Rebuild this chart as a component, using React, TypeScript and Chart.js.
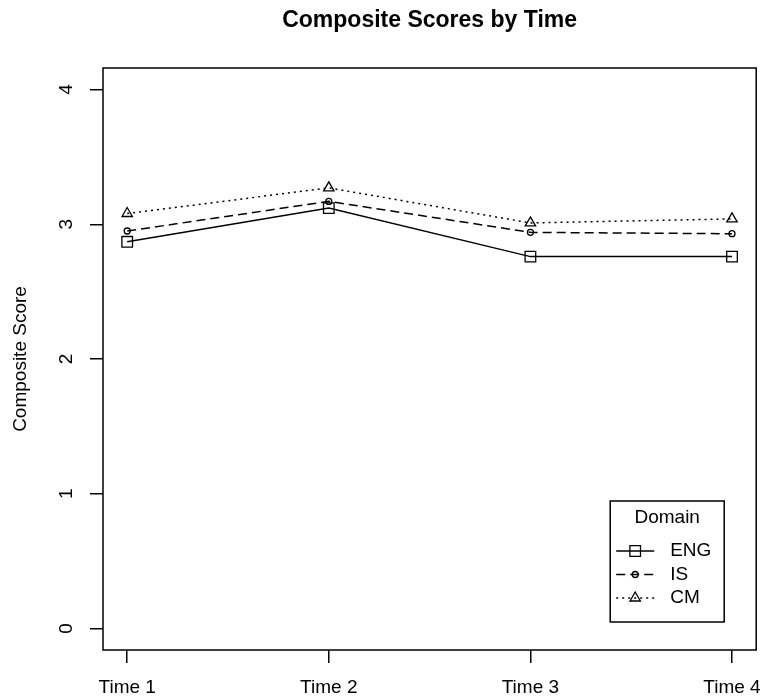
import { useEffect, useRef } from 'react';
import { Chart, registerables } from 'chart.js';
import { drawPoint } from 'chart.js/helpers';

Chart.register(...registerables);

const chartTitle = 'Composite Scores by Time';
const yTitle = 'Composite Score';
const legendTitle = 'Domain';
const timeLabels = ['Time 1', 'Time 2', 'Time 3', 'Time 4'];
const timePoints = [1, 2, 3, 4];
const yTicks = [0, 1, 2, 3, 4];
const seriesNames = ['ENG', 'IS', 'CM'];
const engScores = [2.87, 3.12, 2.76, 2.76];
const isScores = [2.95, 3.17, 2.94, 2.93];
const cmScores = [3.08, 3.27, 3.01, 3.04];

const FONT = '"Liberation Sans", Arial, Helvetica, sans-serif';

const boxPlugin = {
  id: 'rBox',
  beforeDatasetsDraw(chart: any) {
    const { ctx, chartArea } = chart;
    ctx.save();
    ctx.strokeStyle = '#000';
    ctx.lineWidth = 1.5;
    ctx.strokeRect(chartArea.left, chartArea.top, chartArea.right - chartArea.left, chartArea.bottom - chartArea.top);
    ctx.restore();
  },
};

const legendPlugin = {
  id: 'rLegend',
  afterDraw(chart: any) {
    const { ctx, chartArea } = chart;
    const w = 114;
    const h = 121;
    const right = chartArea.right - 32;
    const bottom = chartArea.bottom - 28;
    const left = right - w;
    const top = bottom - h;
    ctx.save();
    ctx.fillStyle = '#fff';
    ctx.fillRect(left, top, w, h);
    ctx.strokeStyle = '#000';
    ctx.lineWidth = 1.5;
    ctx.strokeRect(left, top, w, h);
    ctx.fillStyle = '#000';
    ctx.font = `19px ${FONT}`;
    ctx.textAlign = 'center';
    ctx.textBaseline = 'middle';
    ctx.fillText(legendTitle, left + w / 2, top + 17);
    chart.data.datasets.forEach((ds: any, i: number) => {
      const y = top + 50 + i * 23.5;
      ctx.strokeStyle = '#000';
      ctx.lineWidth = ds.borderWidth;
      ctx.setLineDash(ds.borderDash || []);
      ctx.beginPath();
      ctx.moveTo(left + 6, y);
      ctx.lineTo(left + 44, y);
      ctx.stroke();
      ctx.setLineDash([]);
      ctx.fillStyle = 'rgba(0,0,0,0)';
      ctx.lineWidth = ds.pointBorderWidth;
      drawPoint(ctx, { pointStyle: ds.pointStyle, radius: ds.pointRadius, borderWidth: ds.pointBorderWidth, rotation: 0 } as any, left + 25, y);
      ctx.fillStyle = '#000';
      ctx.textAlign = 'left';
      ctx.fillText(ds.label, left + 60, y);
    });
    ctx.restore();
  },
};

function toPoints(values: number[]) {
  return timePoints.map((t, i) => ({ x: t, y: values[i] }));
}

export default function App() {
  const ref = useRef<HTMLCanvasElement | null>(null);

  useEffect(() => {
    if (!ref.current) return;
    const common = {
      borderColor: '#000',
      borderWidth: 1.5,
      pointBorderColor: '#000',
      pointBackgroundColor: 'rgba(0,0,0,0)',
      pointBorderWidth: 1.3,
      fill: false,
      tension: 0,
    };
    const chart = new Chart(ref.current, {
      type: 'line',
      data: {
        datasets: [
          { ...common, label: seriesNames[0], data: toPoints(engScores), pointStyle: 'rect', pointRadius: 7.5, borderDash: [] },
          { ...common, label: seriesNames[1], data: toPoints(isScores), pointStyle: 'circle', pointRadius: 3, borderDash: [9, 5] },
          { ...common, label: seriesNames[2], data: toPoints(cmScores), pointStyle: 'triangle', pointRadius: 6, borderDash: [2, 4] },
        ] as any,
      },
      options: {
        responsive: false,
        animation: false,
        events: [],
        layout: { padding: { left: 0, right: 7, top: 0, bottom: 0 } },
        plugins: {
          legend: { display: false },
          tooltip: { enabled: false },
          title: {
            display: true,
            text: chartTitle,
            fullSize: false,
            color: '#000',
            font: { family: FONT, size: 23, weight: 'bold' },
            padding: { top: 7, bottom: 33.4 },
          },
        },
        scales: {
          x: {
            type: 'linear',
            min: 0.88,
            max: 4.12,
            afterBuildTicks: (s: any) => {
              s.ticks = timePoints.map((v) => ({ value: v }));
            },
            afterFit: (s: any) => {
              s.height = 48;
              s.paddingLeft = 0;
              s.paddingRight = 0;
            },
            ticks: {
              autoSkip: false,
              maxRotation: 0,
              minRotation: 0,
              padding: 13,
              color: '#000',
              font: { family: FONT, size: 19 },
              callback: (v: any) => timeLabels[timePoints.indexOf(Number(v))] ?? '',
            },
            grid: { drawOnChartArea: false, drawTicks: true, tickLength: 13, color: '#000', lineWidth: 1.5 },
            border: { display: false },
          },
          y: {
            type: 'linear',
            min: -0.16,
            max: 4.16,
            afterBuildTicks: (s: any) => {
              s.ticks = yTicks.map((v) => ({ value: v }));
            },
            afterFit: (s: any) => {
              s.width = 103;
              s.paddingTop = 0;
              s.paddingBottom = 0;
            },
            ticks: {
              autoSkip: false,
              minRotation: 90,
              maxRotation: 90,
              crossAlign: 'center',
              padding: 18,
              color: '#000',
              font: { family: FONT, size: 19 },
              callback: (v: any) => String(v),
            },
            title: {
              display: true,
              text: yTitle,
              color: '#000',
              font: { family: FONT, size: 19 },
              padding: { top: 9, bottom: 0 },
            },
            grid: { drawOnChartArea: false, drawTicks: true, tickLength: 13, color: '#000', lineWidth: 1.5 },
            border: { display: false },
          },
        },
      } as any,
      plugins: [boxPlugin, legendPlugin],
    });
    return () => chart.destroy();
  }, []);

  return (
    <div style={{ position: 'fixed', left: 0, top: 0, width: 765, height: 698, background: '#fff' }}>
      <canvas ref={ref} width={765} height={698} style={{ display: 'block', width: 765, height: 698 }} />
    </div>
  );
}
